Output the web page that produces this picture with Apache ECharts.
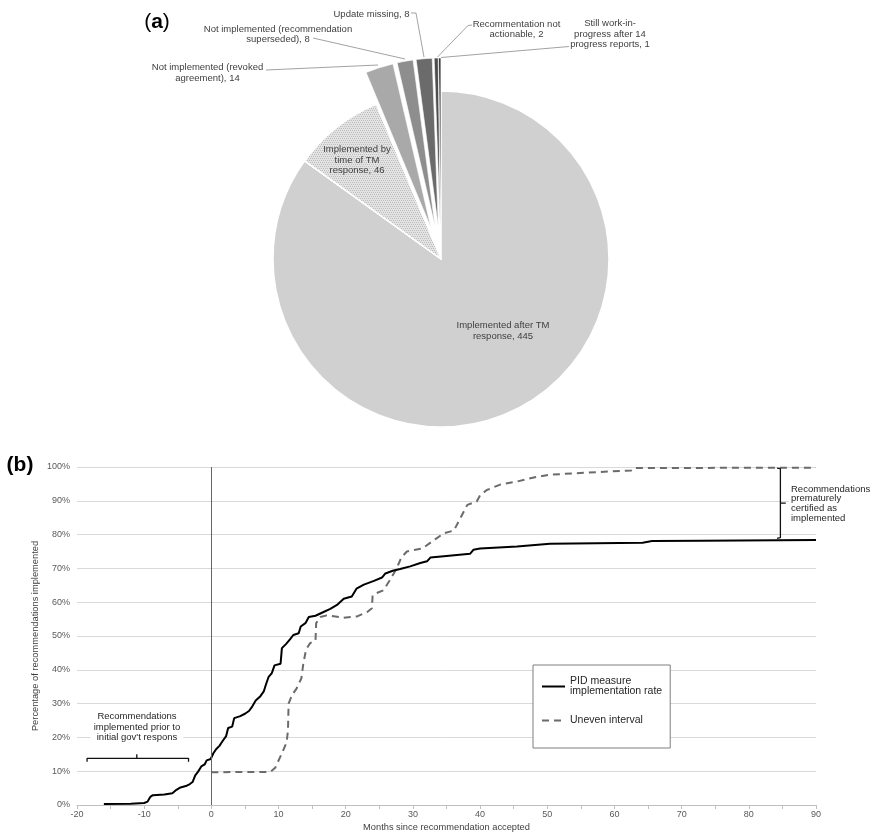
<!DOCTYPE html>
<html><head><meta charset="utf-8">
<script src="https://cdn.jsdelivr.net/npm/echarts@6/dist/echarts.min.js"></script>
<style>html,body{margin:0;padding:0;background:#fff}#c{width:873px;height:836px}</style>
</head><body><div id="c"></div>
<script>
const FONT = '"Liberation Sans", Arial, Helvetica, sans-serif';

// ---------- (a) pie data ----------
const pieNames = [
  'Implemented after TM\nresponse',
  'Implemented by\ntime of TM\nresponse',
  'Not implemented (revoked\nagreement)',
  'Not implemented (recommendation\nsuperseded)',
  'Update missing',
  'Recommentation not\nactionable',
  'Still work-in-\nprogress after 14\nprogress reports'
];
const pieValues = [445, 46, 14, 8, 8, 2, 1];
const pieExploded = [false, false, true, true, true, true, true];

// ---------- (b) line data ----------
const seriesNames = ['PID measure\nimplementation rate', 'Uneven interval'];
const solidMonths = [-16, -12, -10, -9.5, -9.1, -8.7, -7, -5.8, -5.2, -4.6, -3.8, -3.2, -2.8, -2.4, -2.0, -1.5, -1.0, -0.7, -0.1,
  0.3, 0.7, 1.2, 1.7, 2.2, 2.5, 3.1, 3.4, 4.3, 5.0, 5.6, 6.1, 6.6, 7.3, 7.8, 8.1, 8.5, 9.0, 9.4, 10.3, 10.5,
  11.1, 11.7, 12.2, 13.0, 13.3, 14.0, 14.5, 15.5, 16.7, 17.7, 18.7, 19.7, 20.9, 21.6, 22.7, 24.2, 25.4, 25.9,
  27.0, 28.1, 29.6, 31.1, 32.1, 32.6, 35, 38.5, 39.0, 40.0, 45.5, 50.4, 64.2, 65.6, 73, 90];
const solidPct = [0.3, 0.4, 0.6, 1.0, 2.4, 2.9, 3.1, 3.5, 4.5, 5.2, 5.6, 6.2, 6.8, 8.8, 9.8, 11.4, 12.0, 13.2, 13.6,
  15.3, 16.5, 17.5, 19.0, 20.4, 22.8, 23.2, 25.7, 26.3, 27.0, 27.8, 29.2, 30.9, 32.2, 33.6, 35.5, 37.8, 39.0, 41.3, 41.8, 46.4,
  47.6, 49.0, 50.3, 50.8, 52.8, 53.8, 55.6, 56.0, 57.1, 58.0, 59.2, 61.0, 61.7, 64.0, 65.2, 66.3, 67.3, 68.5,
  69.3, 69.8, 70.6, 71.6, 72.1, 73.2, 73.7, 74.3, 75.5, 75.9, 76.5, 77.3, 77.6, 78.1, 78.2, 78.4];
const dashedMonths = [0, 8.8, 9.5, 10.5, 11.2, 11.4, 11.5, 12.0, 12.7, 13.4, 13.7, 14.1, 14.7, 15.5, 15.6, 16.2, 17.2,
  19.7, 21.7, 23.2, 23.9, 24.0, 24.6, 25.6, 26.6, 27.6, 28.3, 29.1, 31.4, 33.3, 34.6, 36.1, 37.1, 38.1, 39.5,
  40.0, 41.0, 43.0, 45.5, 48.0, 50.4, 55.4, 62.5, 62.9, 90];
const dashedPct = [9.7, 9.8, 11.0, 15.3, 18.5, 22, 30, 32.5, 34.5, 37.5, 42, 46, 47.9, 48.6, 53.8, 55.6, 56.1,
  55.4, 55.8, 57.1, 58.2, 61.9, 62.7, 63.5, 66.6, 70.1, 73.3, 75.0, 75.9, 78.6, 80.4, 81.2, 85.0, 88.8, 89.8,
  91.6, 93.2, 94.8, 95.7, 96.9, 97.7, 98.3, 99.0, 99.7, 99.8];

// annotation brackets (data coordinates)
const leftBraceMonths = [-18.5, -18.5, -11.1, -11.1, -11.1, -3.4, -3.4];
const leftBracePct = [12.8, 13.8, 13.8, 15.0, 13.8, 13.8, 12.8];
const rightBraceMonths = [84.2, 84.7, 84.7, 85.5, 84.7, 84.7, 84.2];
const rightBracePct = [99.7, 99.5, 89.3, 89.3, 89.3, 79.1, 78.9];

const leftNote = 'Recommendations\nimplemented prior to\ninitial gov\'t respons';
const rightNote = 'Recommendations\nprematurely\ncertified as\nimplemented';
const xAxisTitle = 'Months since recommendation accepted';
const yAxisTitle = 'Percentage of recommendations implemented';

// ---------- styles / layout ----------
const pieColors = ['#d0d0d0', '#e3e3e3', '#a9a9a9', '#8e8e8e', '#6b6b6b', '#4d4d4d', '#111111'];
const insideLabelPos = [{x: 503, y: 331}, {x: 357, y: 160}];
const outsideLabelPos = {
  2: {x: 207.5, y: 73, line: [[266, 70], [378, 65]]},
  3: {x: 278, y: 34.3, line: [[313, 38], [405, 59]]},
  4: {x: 371.5, y: 14, line: [[411, 13], [416, 13], [424, 57]]},
  5: {x: 516.5, y: 29.3, line: [[472, 25], [468, 25.5], [437.5, 57]]},
  6: {x: 610, y: 34, line: [[569, 46.5], [441, 57.5]]}
};

const zip = (a, b) => a.map((v, i) => [v, b[i]]);
const labelText = i => pieNames[i] + ', ' + pieValues[i];

const pieData = pieValues.map((v, i) => {
  const d = {
    value: v,
    name: pieNames[i],
    selected: pieExploded[i],
    itemStyle: {color: pieColors[i], borderColor: '#fff', borderWidth: i < 2 ? 1.5 : 0.6},
    label: {show: i < 2},
    labelLine: {show: false}
  };
  if (i === 1) {
    d.itemStyle.decal = {
      symbol: 'rect', symbolSize: 1, color: '#bdbdbd',
      dashArrayX: [[1, 1], [0, 1, 1, 0]], dashArrayY: [1, 1]
    };
  }
  return d;
});

const graphics = [
  {type: 'text', x: 157, y: 22, style: {
    text: '{p|(}{b|a}{p|)}', align: 'center', verticalAlign: 'middle',
    rich: {p: {fontFamily: FONT, fontSize: 21, color: '#000'}, b: {fontFamily: FONT, fontSize: 21, fontWeight: 'bold', color: '#000'}}
  }},
  {type: 'text', x: 20, y: 465, style: {
    text: '{p|(}{b|b}{p|)}', align: 'center', verticalAlign: 'middle',
    rich: {p: {fontFamily: FONT, fontSize: 21, fontWeight: 'bold', color: '#000'}, b: {fontFamily: FONT, fontSize: 21, fontWeight: 'bold', color: '#000'}}
  }},
  {type: 'text', x: 137, y: 727, z: 20, style: {
    text: leftNote, align: 'center', verticalAlign: 'middle',
    fontFamily: FONT, fontSize: 9.5, lineHeight: 10.2, fill: '#262626',
    backgroundColor: '#fff', padding: [1, 3]
  }},
  {type: 'text', x: 789, y: 503.6, z: 20, style: {
    text: rightNote, align: 'left', verticalAlign: 'middle',
    fontFamily: FONT, fontSize: 9.5, lineHeight: 9.6, fill: '#262626',
    backgroundColor: '#fff', padding: [1, 2]
  }}
];
Object.keys(outsideLabelPos).forEach(k => {
  const i = +k, q = outsideLabelPos[k];
  graphics.push({type: 'polyline', silent: true, z: 10,
    shape: {points: q.line}, style: {stroke: '#8a8a8a', lineWidth: 0.8, fill: null}});
  graphics.push({type: 'text', silent: true, x: q.x, y: q.y, z: 10, style: {
    text: labelText(i), align: 'center', verticalAlign: 'middle',
    fontFamily: FONT, fontSize: 9.5, lineHeight: 10.3, fill: '#404040'
  }});
});

const chart = echarts.init(document.getElementById('c'), null, {renderer: 'canvas'});
chart.setOption({
  animation: false,
  backgroundColor: '#fff',
  textStyle: {fontFamily: FONT},
  legend: {
    data: [seriesNames[0], seriesNames[1]],
    orient: 'vertical',
    left: 533, top: 665,
    padding: [11, 8, 22, 8],
    itemGap: 18,
    itemWidth: 23, itemHeight: 10,
    backgroundColor: '#fff',
    borderColor: '#7f7f7f', borderWidth: 1,
    selectedMode: false,
    itemStyle: {color: 'rgba(0,0,0,0)', borderColor: 'rgba(0,0,0,0)', borderWidth: 0},
    textStyle: {fontFamily: FONT, fontSize: 10.5, color: '#262626', lineHeight: 10}
  },
  grid: {left: 77, right: 57, top: 467, bottom: 31, containLabel: false},
  xAxis: {
    type: 'value', min: -20, max: 90, interval: 10,
    name: xAxisTitle, nameLocation: 'middle', nameGap: 18, nameMoveOverlap: false,
    nameTextStyle: {fontFamily: FONT, fontSize: 9.3, color: '#404040'},
    axisLine: {show: true, onZero: false, lineStyle: {color: '#bfbfbf', width: 1}},
    axisTick: {show: true, length: 4, lineStyle: {color: '#bfbfbf'}},
    minorTick: {show: true, splitNumber: 2, length: 4, lineStyle: {color: '#bfbfbf'}},
    axisLabel: {fontFamily: FONT, fontSize: 9, color: '#595959', margin: 5},
    splitLine: {show: false}
  },
  yAxis: {
    type: 'value', min: 0, max: 100, interval: 10,
    name: yAxisTitle, nameLocation: 'middle', nameGap: 37, nameRotate: 90, nameMoveOverlap: false,
    nameTextStyle: {fontFamily: FONT, fontSize: 9.3, color: '#404040'},
    axisLine: {show: false}, axisTick: {show: false},
    axisLabel: {fontFamily: FONT, fontSize: 9, color: '#595959', margin: 7, formatter: '{value}%'},
    splitLine: {lineStyle: {color: '#d9d9d9', width: 1}}
  },
  series: [
    {
      type: 'pie',
      center: [441, 259], radius: 168,
      startAngle: 90, clockwise: true,
      selectedMode: 'multiple', selectedOffset: 33,
      avoidLabelOverlap: false,
      silent: true,
      emphasis: {disabled: true, scale: false},
      label: {
        position: 'inside', color: '#404040',
        fontFamily: FONT, fontSize: 9.5, lineHeight: 10.3, align: 'center',
        formatter: p => p.name + ', ' + p.value
      },
      labelLayout: p => {
        const q = insideLabelPos[p.dataIndex];
        return q ? {x: q.x, y: q.y, align: 'center', verticalAlign: 'middle'} : {};
      },
      data: pieData
    },
    {
      name: seriesNames[1], type: 'line', symbol: 'none', silent: true,
      lineStyle: {color: '#6b6b6b', width: 2, type: [7, 5]},
      itemStyle: {color: '#6b6b6b'},
      data: zip(dashedMonths, dashedPct), z: 3
    },
    {
      name: seriesNames[0], type: 'line', symbol: 'none', silent: true,
      lineStyle: {color: '#000', width: 2},
      itemStyle: {color: '#000'},
      data: zip(solidMonths, solidPct), z: 4,
      markLine: {
        silent: true, symbol: ['none', 'none'], label: {show: false},
        lineStyle: {color: '#666', width: 1, type: 'solid'},
        data: [{xAxis: 0}]
      }
    },
    {
      name: 'leftBrace', type: 'line', symbol: 'none', silent: true,
      lineStyle: {color: '#111', width: 1.3},
      data: zip(leftBraceMonths, leftBracePct), z: 5
    },
    {
      name: 'rightBrace', type: 'line', symbol: 'none', silent: true,
      lineStyle: {color: '#111', width: 1.3},
      data: zip(rightBraceMonths, rightBracePct), z: 5
    }
  ],
  graphic: graphics
});
</script></body></html>
